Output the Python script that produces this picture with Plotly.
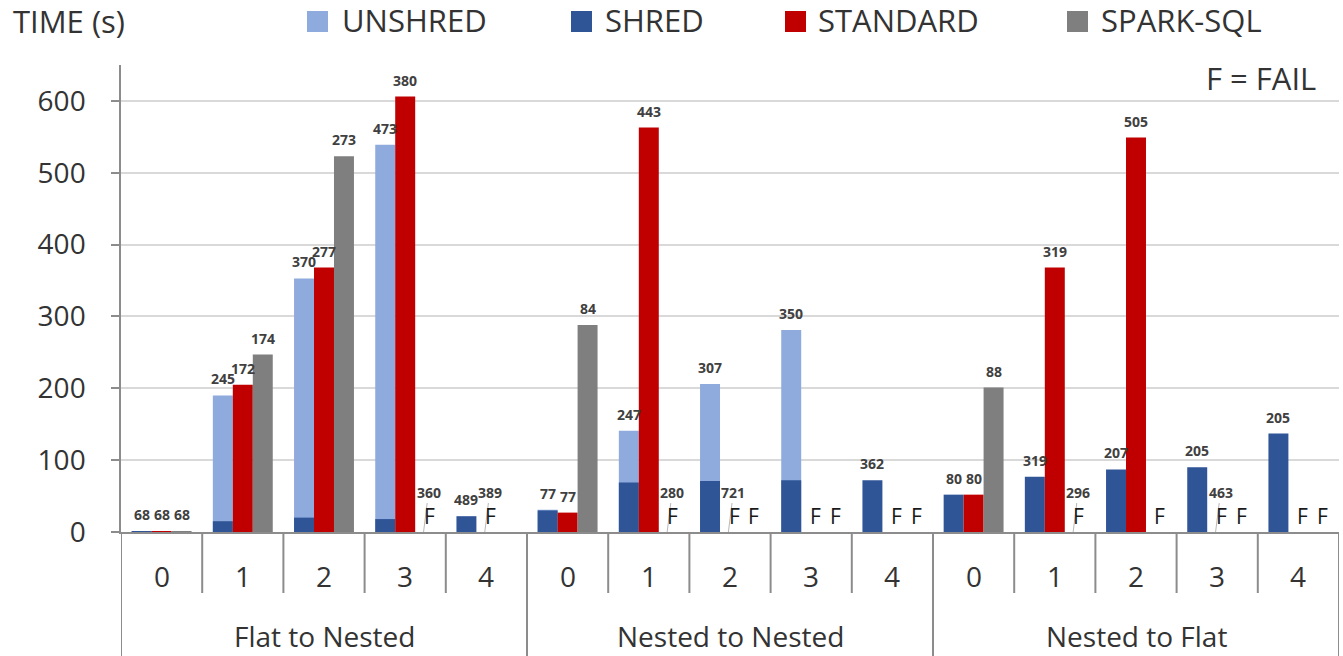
import plotly.graph_objects as go

# ---------------- data ----------------
groups = ["Flat to Nested", "Nested to Nested", "Nested to Flat"]
levels = ["0", "1", "2", "3", "4"]

shred = [1, 15, 20, 18, 22, 30, 69, 71, 72, 72, 52, 77, 87, 90, 137]
unshred = [1, 190, 353, 539, None, 31, 141, 206, 281, None, None, None, None, None, None]
standard = [1, 205, 368, 606, None, 27, 563, None, None, None, 52, 368, 549, None, None]
spark = [1, 247, 523, None, None, 288, None, None, None, None, 201, None, None, None, None]

shred_labels = ["68", "245", "370", "473", "489", "77", "247", "307", "350", "362",
                "80", "319", "207", "205", "205"]
standard_labels = ["68", "172", "277", "380", "389", "77", "443", "721", "", "",
                   "80", "319", "505", "463", ""]
spark_labels = ["68", "174", "273", "360", "", "84", "280", "", "", "",
                "88", "296", "", "", ""]
standard_fail = [0, 0, 0, 0, 1, 0, 0, 1, 1, 1, 0, 0, 0, 1, 1]
spark_fail = [0, 0, 0, 1, 0, 0, 1, 1, 1, 1, 0, 1, 1, 1, 1]

series_names = ["UNSHRED", "SHRED", "STANDARD", "SPARK-SQL"]
colors = ["#8FAADC", "#2F5597", "#C00000", "#7F7F7F"]

# ---------------- geometry ----------------
W_FIG, H_FIG = 1343, 656
L, R, T, B = 121, 1339, 65, 532
PW, PH = R - L, B - T
FONT = "Open Sans"
TXT = "#333333"
LINE = "#8C8C8C"

def px2x(p):
    return (p - L) / PW

def py2y(p):
    return (B - p) / PH

n = len(shred)
xs = list(range(n))
bw = 0.246
off_left, off_mid, off_right = -1.5 * bw, -0.5 * bw, 0.5 * bw

fig = go.Figure()
fig.add_trace(go.Bar(x=xs, y=unshred, name=series_names[0], marker_color=colors[0],
                     width=bw, offset=off_left, marker_line_width=0))
fig.add_trace(go.Bar(x=xs, y=shred, name=series_names[1], marker_color=colors[1],
                     width=bw, offset=off_left, marker_line_width=0))
fig.add_trace(go.Bar(x=xs, y=standard, name=series_names[2], marker_color=colors[2],
                     width=bw, offset=off_mid, marker_line_width=0))
fig.add_trace(go.Bar(x=xs, y=spark, name=series_names[3], marker_color=colors[3],
                     width=bw, offset=off_right, marker_line_width=0))

ann = []
lab_font = dict(family=FONT, size=14, color="#404040", weight="bold")
f_font = dict(family=FONT, size=21, color="#1A1A1A")

def add_label(xc, top, text):
    ann.append(dict(x=xc, y=top, xref="x", yref="y", text=text, showarrow=False,
                    yanchor="bottom", yshift=5, font=lab_font))

def add_fail(xc, text):
    if text:
        ann.append(dict(x=xc - 0.02, y=0, xref="x", yref="y", text=text, showarrow=True,
                        arrowhead=0, arrowwidth=0.8, arrowcolor="#A6A6A6", ax=5, ay=-40,
                        standoff=0, font=lab_font))
    ann.append(dict(x=xc, y=0, xref="x", yref="y", text="F", showarrow=False,
                    yanchor="bottom", xshift=4, font=f_font))

for i in range(n):
    c_left = i + off_left + bw / 2
    c_mid = i + off_mid + bw / 2
    c_right = i + off_right + bw / 2
    top = unshred[i] if unshred[i] is not None else shred[i]
    add_label(c_left, top, shred_labels[i])
    if standard_fail[i]:
        add_fail(c_mid, standard_labels[i])
    elif standard[i] is not None:
        add_label(c_mid, standard[i], standard_labels[i])
    if spark_fail[i]:
        add_fail(c_right, spark_labels[i])
    elif spark[i] is not None:
        add_label(c_right, spark[i], spark_labels[i])

# bottom category table
shapes = []
nl = len(levels)
for b in range(n + 1):
    bottom = 656 if b % nl == 0 else 593
    shapes.append(dict(type="line", xref="x", yref="paper", x0=b - 0.5, x1=b - 0.5,
                       y0=0, y1=py2y(bottom), line=dict(color=LINE, width=2)))
for i in range(n):
    ann.append(dict(x=i, y=py2y(576), xref="x", yref="paper", text=levels[i % nl],
                    showarrow=False, yanchor="middle", font=dict(family=FONT, size=28, color=TXT)))
for g, name in enumerate(groups):
    ann.append(dict(x=g * nl + (nl - 1) / 2, y=py2y(636), xref="x", yref="paper", text=name,
                    showarrow=False, yanchor="middle", font=dict(family=FONT, size=28, color=TXT)))

# title-like text
ann.append(dict(x=px2x(11), y=py2y(21), xref="paper", yref="paper", text="TIME (s)",
                showarrow=False, xanchor="left", yanchor="middle",
                font=dict(family=FONT, size=31, color=TXT)))
ann.append(dict(x=px2x(1318), y=py2y(78), xref="paper", yref="paper", text="F = FAIL",
                showarrow=False, xanchor="right", yanchor="middle",
                font=dict(family=FONT, size=31, color=TXT)))

# manual legend
leg_sq = [307, 571, 785, 1067]
leg_tx = [340, 603, 816, 1099]
for k in range(4):
    shapes.append(dict(type="rect", xref="paper", yref="paper",
                       x0=px2x(leg_sq[k]), x1=px2x(leg_sq[k] + 21),
                       y0=py2y(11), y1=py2y(32), fillcolor=colors[k], line=dict(width=0)))
    ann.append(dict(x=px2x(leg_tx[k]), y=py2y(20), xref="paper", yref="paper",
                    text=series_names[k], showarrow=False, xanchor="left", yanchor="middle",
                    font=dict(family=FONT, size=31, color=TXT)))

fig.update_layout(
    width=W_FIG, height=H_FIG,
    margin=dict(l=L, r=W_FIG - R, t=T, b=H_FIG - B),
    plot_bgcolor="white", paper_bgcolor="white",
    barmode="overlay", showlegend=False,
    annotations=ann, shapes=shapes,
    xaxis=dict(range=[-0.5, n - 0.5], showticklabels=False, showgrid=False, zeroline=False,
               showline=True, linecolor=LINE, linewidth=2, ticks=""),
    yaxis=dict(range=[0, 650], tickvals=[0, 100, 200, 300, 400, 500, 600],
               showgrid=True, gridcolor="#D9D9D9", gridwidth=1.5, zeroline=False,
               showline=True, linecolor=LINE, linewidth=1.5, ticks="outside", ticklen=8,
               tickcolor=LINE, tickwidth=1.5, ticklabelstandoff=20,
               tickfont=dict(family=FONT, size=28, color=TXT)),
)

fig.write_html("out.html", config={"displayModeBar": False},
               post_script="document.body.style.margin='0';document.body.style.overflow='hidden';")
